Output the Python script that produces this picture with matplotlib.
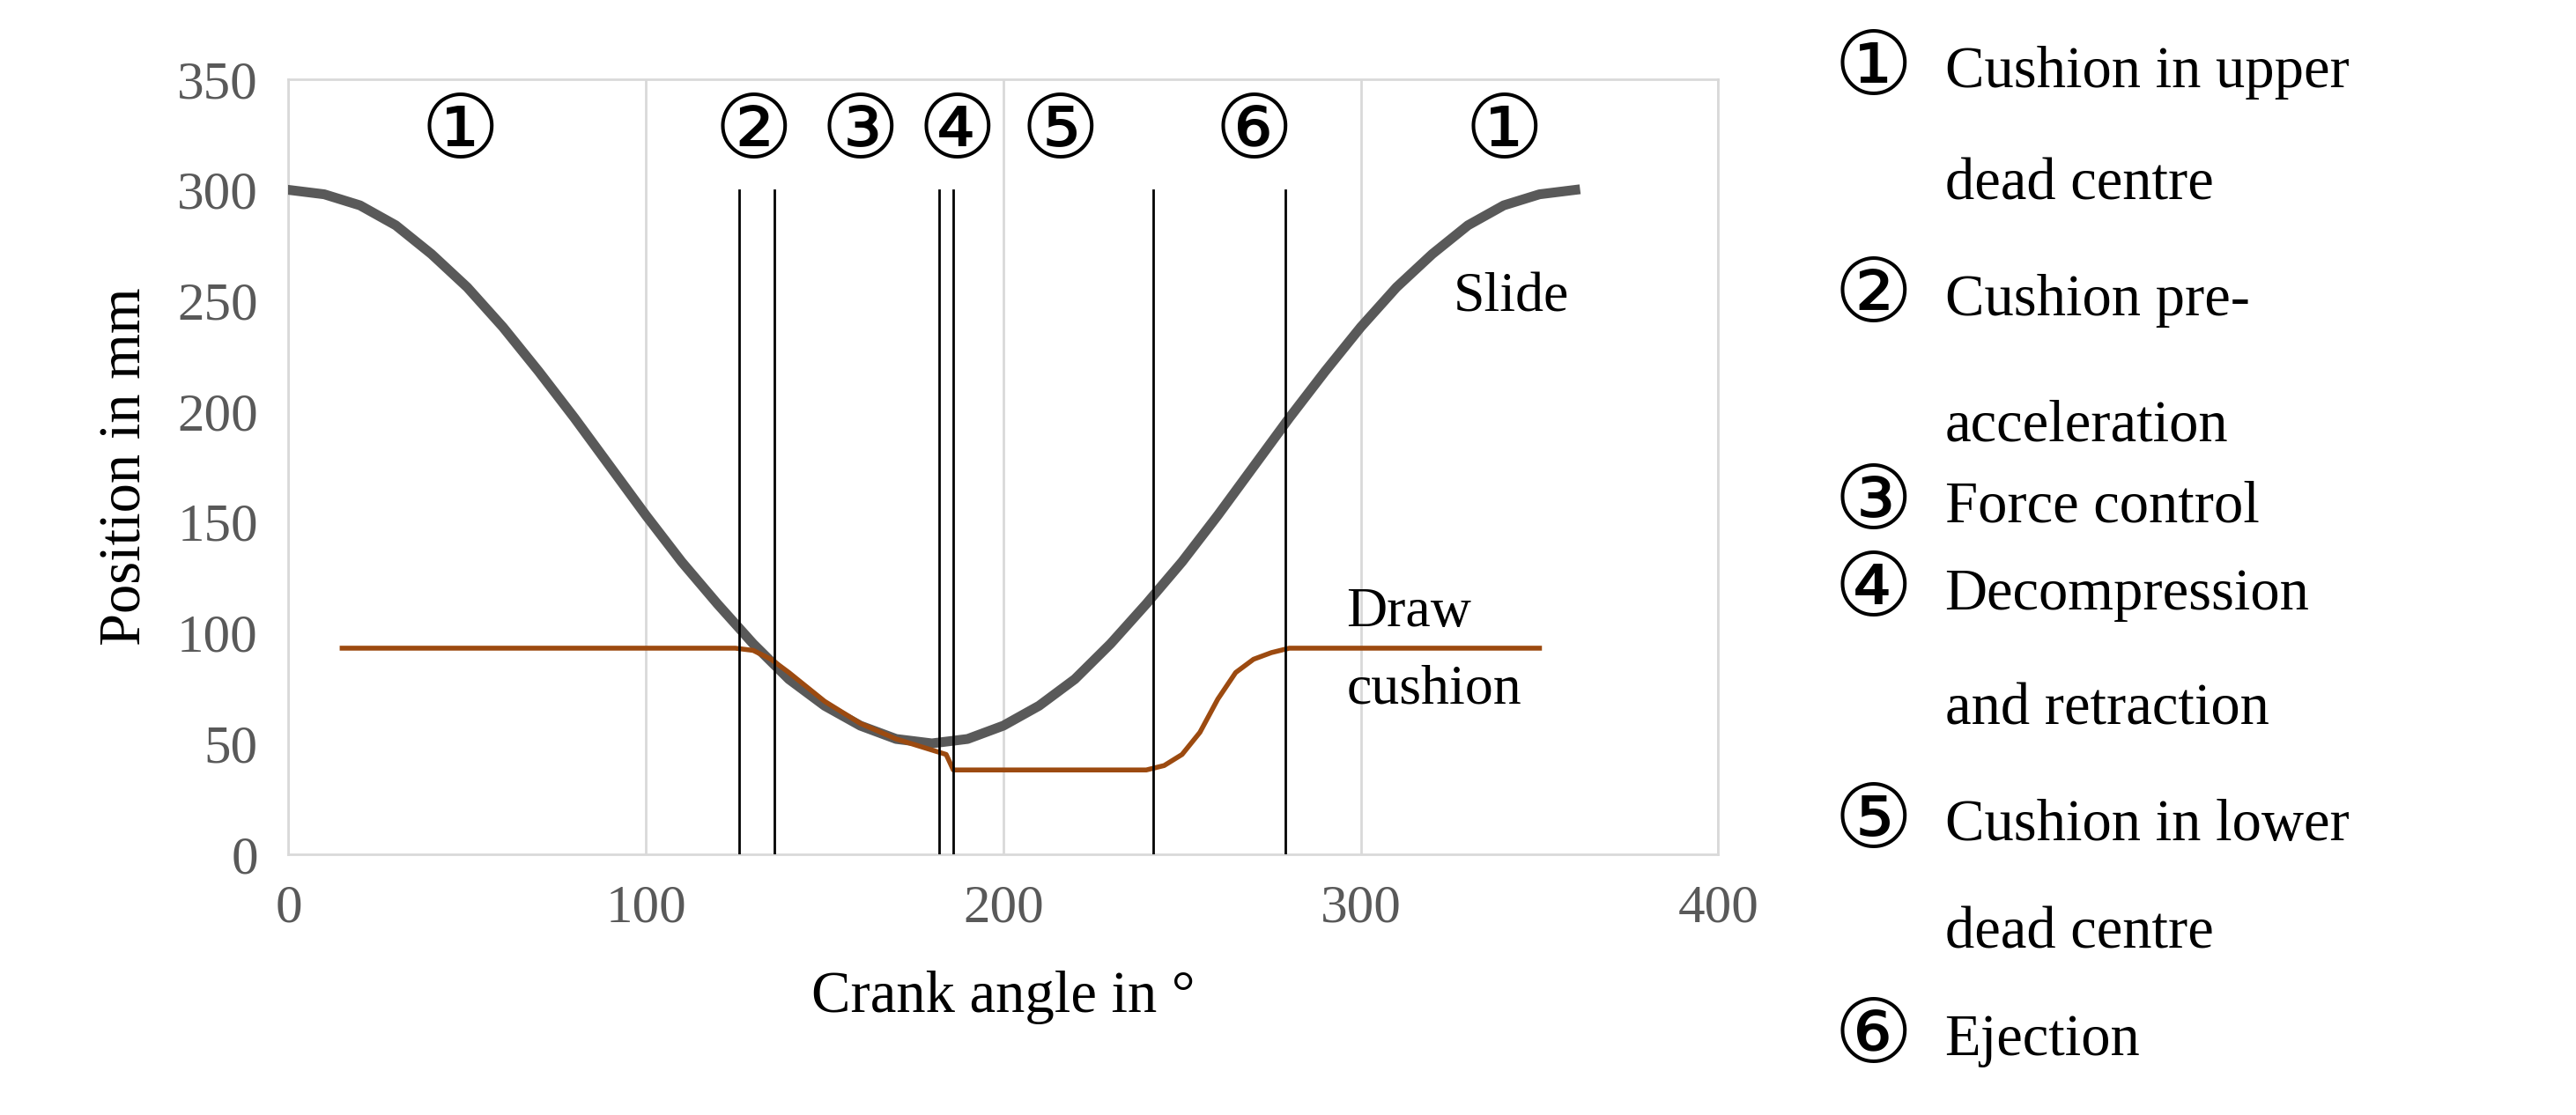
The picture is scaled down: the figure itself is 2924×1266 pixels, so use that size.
import matplotlib.pyplot as plt

# slide curve
slide_x = [0, 10, 20, 30, 40, 50, 60, 70, 80, 90, 100, 110, 120, 130, 140, 150, 160, 170, 180,
           190, 200, 210, 220, 230, 240, 250, 260, 270, 280, 290, 300, 310, 320, 330, 340, 350, 360]
slide_y = [300, 298, 293, 284, 271, 256, 238, 218, 197, 175, 153, 132, 113, 95, 79, 67, 58, 52, 50,
           52, 58, 67, 79, 95, 113, 132, 153, 175, 197, 218, 238, 256, 271, 284, 293, 298, 300]

cush_x = [15, 125, 130, 135, 140, 150, 160, 170, 180, 184, 186, 240, 245, 250, 255, 260, 265, 270, 275, 280, 350]
cush_y = [93, 93, 92, 88, 82, 69, 59, 52, 47, 45, 38, 38, 40, 45, 55, 70, 82, 88, 91, 93, 93]

phase_lines = [126, 136, 182, 186, 242, 279]
phase_labels = ['①', '②', '③', '④', '⑤', '⑥', '①']
phase_pos = [48, 130, 160, 187, 216, 270, 340]

legend_marks = ['①', '', '②', '', '③', '④', '', '⑤', '', '⑥']
legend_lines = ['Cushion in upper', 'dead centre', 'Cushion pre-', 'acceleration',
                'Force control', 'Decompression', 'and retraction', 'Cushion in lower',
                'dead centre', 'Ejection']
legend_y = [44, 112, 182, 258, 307, 360, 430, 500, 565, 630]

fam = ['Liberation Serif', 'DejaVu Sans']
plt.rcParams['font.family'] = fam

fig = plt.figure(figsize=(29.24, 12.66), dpi=100)
ax = fig.add_axes([0.112, 0.234, 0.555, 0.695])

ax.plot(slide_x, slide_y, color='#595959', lw=8, zorder=3)
ax.plot(cush_x, cush_y, color='#9c4a10', lw=4, zorder=4)
for v in phase_lines:
    ax.plot([v, v], [0, 300], color='black', lw=2, zorder=5)
for lab, x in zip(phase_labels, phase_pos):
    ax.text(x, 324, lab, fontsize=72, ha='center', va='center', family=fam)

ax.text(326, 245, 'Slide', fontsize=46)
ax.text(296, 103, 'Draw', fontsize=46)
ax.text(296, 68, 'cushion', fontsize=46)

ax.set_xlim(0, 400)
ax.set_ylim(0, 350)
ax.set_xticks([0, 100, 200, 300, 400])
ax.set_yticks(range(0, 351, 50))
ax.grid(True, axis='x', color='#d9d9d9', lw=2)
ax.set_axisbelow(True)
for s in ax.spines.values():
    s.set_color('#d9d9d9')
    s.set_linewidth(2)
ax.tick_params(length=0, labelsize=44, labelcolor='#595959', pad=25)
ax.set_xlabel('Crank angle in °', fontsize=48, labelpad=30)
ax.set_ylabel('Position in mm', fontsize=48, labelpad=20)

for m, t, y in zip(legend_marks, legend_lines, legend_y):
    if m:
        fig.text(0.712, 1 - y / 675, m, fontsize=72, va='center', family=fam)
    fig.text(0.755, 1 - y / 675, t, fontsize=48, va='center', family=fam)

fig.savefig('out.png')
